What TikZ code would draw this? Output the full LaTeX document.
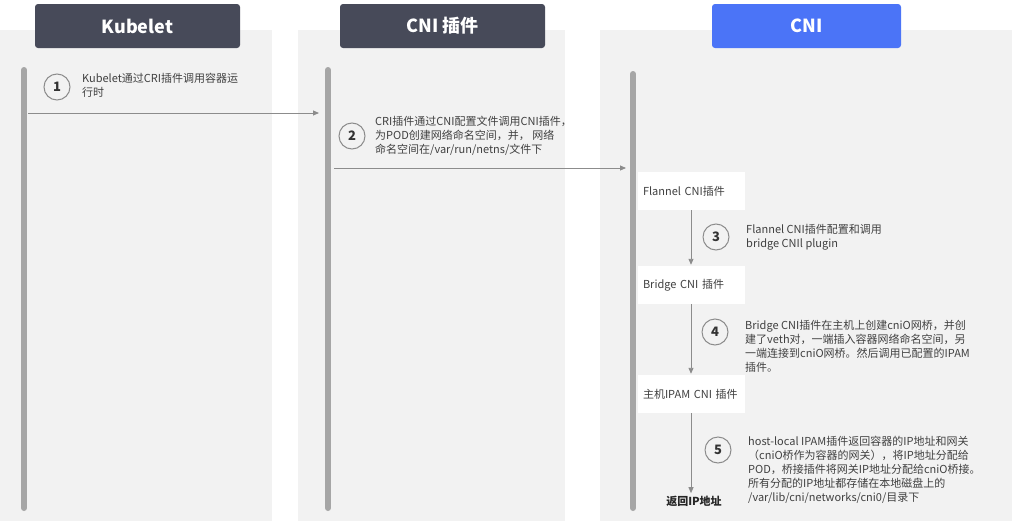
\documentclass[tikz,border=0pt]{standalone}
\usepackage{fontspec}
\setmainfont{Noto Sans CJK SC}
\usetikzlibrary{arrows.meta}
\definecolor{panelgray}{HTML}{F2F2F2}
\definecolor{headgray}{HTML}{474A59}
\definecolor{cniblue}{HTML}{4B74F7}
\definecolor{bargray}{HTML}{A6A6A6}
\definecolor{linegray}{HTML}{8C8C8C}
\definecolor{textgray}{HTML}{404040}
\tikzset{
	header/.style={fill=headgray,rounded corners=3pt,minimum width=205pt,minimum height=44pt,text=white,font=\fontsize{18}{20}\selectfont\bfseries},
	lifeline/.style={bargray,line width=6pt,line cap=round},
	msg/.style={linegray,line width=0.9pt,-{Triangle[length=6pt,width=5pt]}},
	stepnum/.style={circle,draw=linegray,line width=1pt,minimum size=26pt,inner sep=0pt,text=black!80,font=\fontsize{13}{13}\selectfont\bfseries},
	note/.style={anchor=west,align=left,text=textgray,inner sep=0pt,font=\fontsize{11}{14}\selectfont},
	plugbox/.style={fill=white,minimum height=38pt,text width=96pt,inner xsep=5.5pt,align=left,text=textgray,font=\fontsize{11}{14}\selectfont}
}
\begin{document}
\begin{tikzpicture}[x=1pt,y=-1pt]
	\useasboundingbox (0,0) rectangle (1014,522);
	% three lanes
	\fill[panelgray] (0,30) rectangle (272,521);
	\fill[panelgray] (298,30) rectangle (565,521);
	\fill[panelgray] (600,30) rectangle (1012,521);
	\node[header] (kubelet) at (137.5,26) {Kubelet};
	\node[header] (cniplug) at (442.5,26) {CNI 插件};
	\node[header,fill=cniblue,minimum width=189pt] (cni) at (806.5,26) {CNI};
	\draw[lifeline] (24,70) -- (24,508);
	\draw[lifeline] (328,70) -- (328,508);
	\draw[lifeline] (633,74) -- (633,508);
	% step 1 and 2
	\node[stepnum] (s1) at (57,87) {1};
	\node[note] (t1) at (82,85) {Kubelet通过CRI插件调用容器运\\行时};
	\coordinate (k1) at (28,113);
	\coordinate (c1) at (319,113);
	\draw[msg] (k1) -- (c1);
	\node[stepnum] (s2) at (352,136) {2};
	\node[note] (t2) at (375,136) {CRI插件通过CNI配置文件调用CNI插件，\\为POD创建网络命名空间，并， 网络\\命名空间在/var/run/netns/文件下};
	\coordinate (c2) at (334,168);
	\coordinate (n2) at (626,168);
	\draw[msg] (c2) -- (n2);
	% plugins in CNI lane
	\node[plugbox] (flannel) at (691,191) {Flannel~CNI插件};
	\node[plugbox] (bridge) at (691,285) {Bridge~CNI~插件};
	\node[plugbox] (ipam) at (691,394) {主机IPAM~CNI~插件};
	\node[font=\fontsize{11}{14}\selectfont\bfseries,text=black!85] (ret) at (694,501) {返回IP地址};
	\draw[msg,shorten >=1pt] (flannel) -- (bridge);
	\draw[msg,shorten >=1pt] (bridge) -- (ipam);
	\draw[msg] (ipam.south) -- ([yshift=-1pt]ipam.south |- ret.north);
	\node[stepnum] (s3) at (716,237) {3};
	\node[note] (t3) at (746,237) {Flannel CNI插件配置和调用\\bridge CNIl plugin};
	\node[stepnum] (s4) at (715,332) {4};
	\node[note] (t4) at (745,346) {Bridge CNI插件在主机上创建cniO网桥，并创\\建了veth对，一端插入容器网络命名空间，另\\一端连接到cniO网桥。然后调用已配置的IPAM\\插件。};
	\node[stepnum] (s5) at (718,450) {5};
	\node[note] (t5) at (748,470) {host-local IPAM插件返回容器的IP地址和网关\\（cniO桥作为容器的网关），将IP地址分配给\\POD，桥接插件将网关IP地址分配给cniO桥接。\\所有分配的IP地址都存储在本地磁盘上的\\/var/lib/cni/networks/cni0/目录下};
\end{tikzpicture}
\end{document}
